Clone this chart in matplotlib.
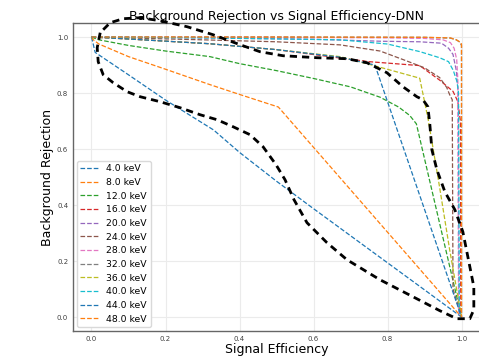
import matplotlib
matplotlib.use("Agg")
import matplotlib.pyplot as plt
import numpy as np

# ROC curves, one per energy
energies = [4.0, 8.0, 12.0, 16.0, 20.0, 24.0, 28.0, 32.0, 36.0, 40.0, 44.0, 48.0]

eff_4 = [0, 0.01, 0.1, 0.2, 0.33, 0.4, 0.5, 0.6, 0.75, 0.9, 1.0]
rej_4 = [1, 0.945, 0.865, 0.775, 0.668, 0.588, 0.485, 0.387, 0.242, 0.097, 0]

eff_8 = [0, 0.005, 0.02, 0.1, 0.2, 0.32, 0.4, 0.505, 1.0]
rej_8 = [1, 0.99, 0.975, 0.93, 0.885, 0.83, 0.795, 0.75, 0]

eff_12 = [0, 0.02, 0.1, 0.2, 0.32, 0.4, 0.5, 0.6, 0.7, 0.78, 0.83, 0.86, 0.878, 1.0]
rej_12 = [1, 0.99, 0.97, 0.95, 0.93, 0.905, 0.88, 0.852, 0.822, 0.785, 0.75, 0.72, 0.69, 0]

eff_16 = [0, 0.1, 0.32, 0.5, 0.672, 0.75, 0.887, 0.941, 0.977, 0.99, 0.997, 0.998, 1.0]
rej_16 = [1, 0.993, 0.976, 0.955, 0.925, 0.912, 0.898, 0.846, 0.806, 0.77, 0.7, 0.02, 0]

eff_20 = [0, 0.3, 0.6, 0.78, 0.887, 0.946, 0.965, 0.977, 0.986, 0.991, 0.993, 1.0]
rej_20 = [1, 0.997, 0.992, 0.985, 0.983, 0.978, 0.96, 0.938, 0.88, 0.8, 0.02, 0]

eff_24 = [0, 0.3, 0.5, 0.672, 0.78, 0.851, 0.9, 0.941, 0.96, 0.968, 0.975, 0.977, 1.0]
rej_24 = [1, 0.99, 0.983, 0.972, 0.95, 0.915, 0.89, 0.855, 0.82, 0.794, 0.776, 0.1, 0]

eff_28 = [0, 0.5, 0.8, 0.9, 0.95, 0.97, 0.98, 0.987, 0.99, 0.992, 1.0]
rej_28 = [1, 0.999, 0.997, 0.995, 0.99, 0.98, 0.96, 0.92, 0.85, 0.02, 0]

eff_32 = [0, 0.5, 0.9, 0.97, 0.986, 0.995, 1.0, 1.0]
rej_32 = [1, 1.0, 0.999, 0.996, 0.99, 0.982, 0.97, 0]

eff_36 = [0, 0.1, 0.32, 0.5, 0.672, 0.78, 0.887, 0.9, 0.91, 0.94, 0.968, 1.0]
rej_36 = [1, 0.993, 0.976, 0.955, 0.93, 0.892, 0.853, 0.77, 0.705, 0.47, 0.24, 0]

eff_40 = [0, 0.3, 0.672, 0.8, 0.887, 0.941, 0.965, 0.978, 0.988, 0.992, 0.994, 1.0]
rej_40 = [1, 0.997, 0.99, 0.975, 0.948, 0.926, 0.912, 0.88, 0.84, 0.8, 0.02, 0]

eff_44 = [0, 0.1, 0.32, 0.5, 0.672, 0.766, 1.0]
rej_44 = [1, 0.993, 0.976, 0.955, 0.928, 0.90, 0]

eff_48 = [0, 0.5, 0.9, 0.97, 0.986, 0.995, 1.0, 1.0, 1.0]
rej_48 = [1, 1.0, 0.999, 0.997, 0.99, 0.983, 0.975, 0.02, 0]

effs = [eff_4, eff_8, eff_12, eff_16, eff_20, eff_24, eff_28, eff_32, eff_36, eff_40, eff_44, eff_48]
rejs = [rej_4, rej_8, rej_12, rej_16, rej_20, rej_24, rej_28, rej_32, rej_36, rej_40, rej_44, rej_48]

# hand drawn black loop around the curves
loop_x = [0.0235, 0.0154, 0.0181, 0.0316, 0.0586, 0.0964, 0.1315, 0.1855, 0.2394, 0.2934,
          0.3394, 0.3826, 0.4285, 0.4636, 0.4987, 0.523, 0.5473, 0.5824, 0.6364, 0.6904,
          0.7795, 0.8686, 0.9415, 0.9874, 1.0225, 1.0333, 1.0333, 1.0198, 1.0036, 0.982,
          0.955, 0.9334, 0.9199, 0.9145, 0.9091, 0.8956, 0.8794, 0.8416, 0.7984, 0.7444,
          0.6904, 0.6094, 0.5176, 0.4555, 0.4015, 0.3286, 0.2584, 0.1855, 0.1315, 0.0856,
          0.0505, 0.0235]
loop_y = [1.0154, 0.9618, 0.9118, 0.8654, 0.8368, 0.8046, 0.7868, 0.7689, 0.7475, 0.7225,
          0.7046, 0.6796, 0.6511, 0.6082, 0.5439, 0.4904, 0.4189, 0.3368, 0.2654, 0.2046,
          0.1332, 0.0725, 0.0225, -0.0061, -0.0061, 0.0261, 0.1082, 0.1975, 0.3046, 0.3832,
          0.4475, 0.5261, 0.5975, 0.6868, 0.7511, 0.7761, 0.7868, 0.8225, 0.8725, 0.9082,
          0.9225, 0.9261, 0.9332, 0.9475, 0.9725, 1.0082, 1.0368, 1.0582, 1.0689, 1.0654,
          1.0511, 1.0154]

fig = plt.figure(figsize=(4.79, 3.57), dpi=100)
ax = fig.add_axes([0.1524, 0.0728, 0.8497, 0.8627])

colors = plt.rcParams['axes.prop_cycle'].by_key()['color']
for i in range(len(energies)):
    ax.plot(effs[i], rejs[i], '--', color=colors[i % 10], lw=0.9,
            label=str(energies[i]) + " keV")

ax.plot(loop_x, loop_y, color='black', lw=2.0, linestyle=(0, (2.6, 1.8)),
        clip_on=False, zorder=5)

ax.set_xlim(-0.05, 1.05)
ax.set_ylim(-0.05, 1.05)
ax.set_xticks([0.0, 0.2, 0.4, 0.6, 0.8, 1.0])
ax.set_yticks([0.0, 0.2, 0.4, 0.6, 0.8, 1.0])
ax.tick_params(length=0, labelsize=5, pad=3.5, labelcolor='0.25')
ax.grid(True, color='0.92', lw=0.8)
for s in ax.spines.values():
    s.set_color('0.4')
    s.set_linewidth(1.0)

ax.set_title("Background Rejection vs Signal Efficiency-DNN", fontsize=9, pad=2)
ax.set_xlabel("Signal Efficiency", fontsize=9, labelpad=1)
ax.set_ylabel("Background Rejection", fontsize=9, labelpad=2)
ax.legend(loc='lower left', fontsize=6.7, labelspacing=0.5, handlelength=2.0,
          borderaxespad=0.4, framealpha=1.0, edgecolor='0.85')

fig.savefig("out.png", dpi=100)
